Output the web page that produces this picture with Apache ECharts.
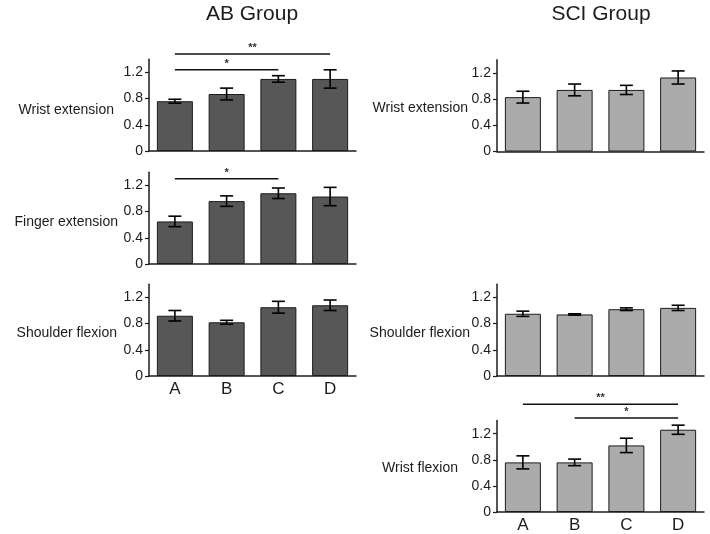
<!DOCTYPE html>
<html>
<head>
<meta charset="utf-8">
<script src="https://cdn.jsdelivr.net/npm/echarts@6/dist/echarts.min.js"></script>
<style>
html,body{margin:0;padding:0;background:#fff;}
#chart{width:710px;height:534px;}
</style>
</head>
<body>
<div id="chart"></div>
<script>
// ---- data ----
const categories = ['A', 'B', 'C', 'D'];
const yTicks = [0, 0.4, 0.8, 1.2];

const abWristExtMean = [0.76, 0.87, 1.10, 1.10];
const abWristExtErr = [0.03, 0.09, 0.05, 0.14];
const abFingerExtMean = [0.65, 0.96, 1.08, 1.03];
const abFingerExtErr = [0.08, 0.08, 0.08, 0.14];
const abShoulderFlexMean = [0.92, 0.82, 1.05, 1.08];
const abShoulderFlexErr = [0.08, 0.03, 0.09, 0.08];

const sciWristExtMean = [0.83, 0.94, 0.94, 1.13];
const sciWristExtErr = [0.09, 0.09, 0.07, 0.10];
const sciShoulderFlexMean = [0.95, 0.94, 1.02, 1.04];
const sciShoulderFlexErr = [0.04, 0.01, 0.02, 0.04];
const sciWristFlexMean = [0.76, 0.76, 1.02, 1.26];
const sciWristFlexErr = [0.10, 0.05, 0.11, 0.07];

// significance brackets: [fromIndex, toIndex, height, label]
const abWristExtSig = [[0, 3, 1.48, '**'], [0, 2, 1.24, '*']];
const abFingerExtSig = [[0, 2, 1.30, '*']];
const sciWristFlexSig = [[0, 3, 1.65, '**'], [1, 3, 1.44, '*']];

// ---- layout ----
const FONT = "'Liberation Sans', Arial, sans-serif";
const AB_COLOR = '#575757';
const SCI_COLOR = '#ababab';
const INK = '#1c1c1c';

const panels = [
  { name: 'Wrist extension', mean: abWristExtMean, err: abWristExtErr, sig: abWristExtSig, color: AB_COLOR,
    left: 149, zero: 151, showX: false, labelRight: 114, labelY: 110 },
  { name: 'Finger extension', mean: abFingerExtMean, err: abFingerExtErr, sig: abFingerExtSig, color: AB_COLOR,
    left: 149, zero: 264, showX: false, labelRight: 118, labelY: 222 },
  { name: 'Shoulder flexion', mean: abShoulderFlexMean, err: abShoulderFlexErr, sig: [], color: AB_COLOR,
    left: 149, zero: 376, showX: true, labelRight: 117, labelY: 333 },
  { name: 'Wrist extension', mean: sciWristExtMean, err: sciWristExtErr, sig: [], color: SCI_COLOR,
    left: 497, zero: 151.5, showX: false, labelRight: 468, labelY: 108 },
  { name: 'Shoulder flexion', mean: sciShoulderFlexMean, err: sciShoulderFlexErr, sig: [], color: SCI_COLOR,
    left: 497, zero: 376, showX: false, labelRight: 470, labelY: 333 },
  { name: 'Wrist flexion', mean: sciWristFlexMean, err: sciWristFlexErr, sig: sciWristFlexSig, color: SCI_COLOR,
    left: 497, zero: 512.3, showX: true, labelRight: 458, labelY: 468 }
];

const GRID_H = 91.7;
const GRID_W = 207;

const grid = [], xAxis = [], yAxis = [], series = [], graphic = [];

panels.forEach((p, k) => {
  grid.push({ left: p.left, top: p.zero - GRID_H, width: GRID_W, height: GRID_H, containLabel: false });
  xAxis.push({
    type: 'category', gridIndex: k, data: categories,
    axisLine: { lineStyle: { color: INK, width: 1.5 } },
    axisTick: { show: false },
    axisLabel: { show: p.showX, color: INK, fontSize: 17, fontFamily: FONT, margin: 5 }
  });
  yAxis.push({
    type: 'value', gridIndex: k, min: 0, max: 1.4, interval: 0.4,
    splitLine: { show: false },
    axisLine: { show: true, lineStyle: { color: INK, width: 1.5 } },
    axisTick: { show: true, length: 4, customValues: yTicks, lineStyle: { color: INK, width: 1.2 } },
    axisLabel: { customValues: yTicks, color: INK, fontSize: 14, fontFamily: FONT, margin: 6,
      formatter: v => String(Math.round(v * 10) / 10) }
  });
  series.push({
    type: 'bar', xAxisIndex: k, yAxisIndex: k, data: p.mean, barWidth: 36,
    itemStyle: { color: p.color, borderColor: INK, borderWidth: 1 },
    silent: true, animation: false
  });
  const mean = p.mean, err = p.err;
  series.push({
    type: 'custom', xAxisIndex: k, yAxisIndex: k, animation: false, silent: true, z: 5,
    data: categories.map((c, i) => [i, mean[i], err[i]]),
    encode: { x: 0, y: 1 },
    renderItem: function (params, api) {
      const i = api.value(0), m = api.value(1), e = api.value(2);
      const t = api.coord([i, m + e]);
      const b = api.coord([i, m - e]);
      const hw = 6.5;
      const st = { stroke: '#000', lineWidth: 1.6 };
      return {
        type: 'group', children: [
          { type: 'line', shape: { x1: t[0], y1: t[1], x2: b[0], y2: b[1] }, style: st },
          { type: 'line', shape: { x1: t[0] - hw, y1: t[1], x2: t[0] + hw, y2: t[1] }, style: st },
          { type: 'line', shape: { x1: b[0] - hw, y1: b[1], x2: b[0] + hw, y2: b[1] }, style: st }
        ]
      };
    }
  });
  if (p.sig.length) {
    const sig = p.sig;
    series.push({
      type: 'custom', xAxisIndex: k, yAxisIndex: k, animation: false, silent: true, clip: false, z: 6,
      data: sig.map(s => [s[0], s[2]]),
      encode: { x: 0, y: 1 },
      renderItem: function (params, api) {
        const s = sig[params.dataIndex];
        const a = api.coord([s[0], s[2]]);
        const c = api.coord([s[1], s[2]]);
        return {
          type: 'group', children: [
            { type: 'line', shape: { x1: a[0], y1: a[1], x2: c[0], y2: c[1] },
              style: { stroke: '#111', lineWidth: 1.5 } },
            { type: 'text', x: (a[0] + c[0]) / 2, y: a[1] - 6,
              style: { text: s[3], fill: '#333', font: 'bold 11px ' + FONT, textAlign: 'center', textVerticalAlign: 'middle' } }
          ]
        };
      }
    });
  }
  graphic.push({
    type: 'text', x: p.labelRight, y: p.labelY,
    style: { text: p.name, fill: INK, font: '14px ' + FONT, textAlign: 'right', textVerticalAlign: 'middle' }
  });
});

graphic.push({ type: 'text', x: 252, y: 14, style: { text: 'AB Group', fill: INK, font: '21px ' + FONT, textAlign: 'center', textVerticalAlign: 'middle' } });
graphic.push({ type: 'text', x: 601, y: 14, style: { text: 'SCI Group', fill: INK, font: '21px ' + FONT, textAlign: 'center', textVerticalAlign: 'middle' } });

const chart = echarts.init(document.getElementById('chart'), null, { renderer: 'canvas' });
chart.setOption({
  backgroundColor: '#fff',
  animation: false,
  grid, xAxis, yAxis, series, graphic
});
</script>
</body>
</html>
